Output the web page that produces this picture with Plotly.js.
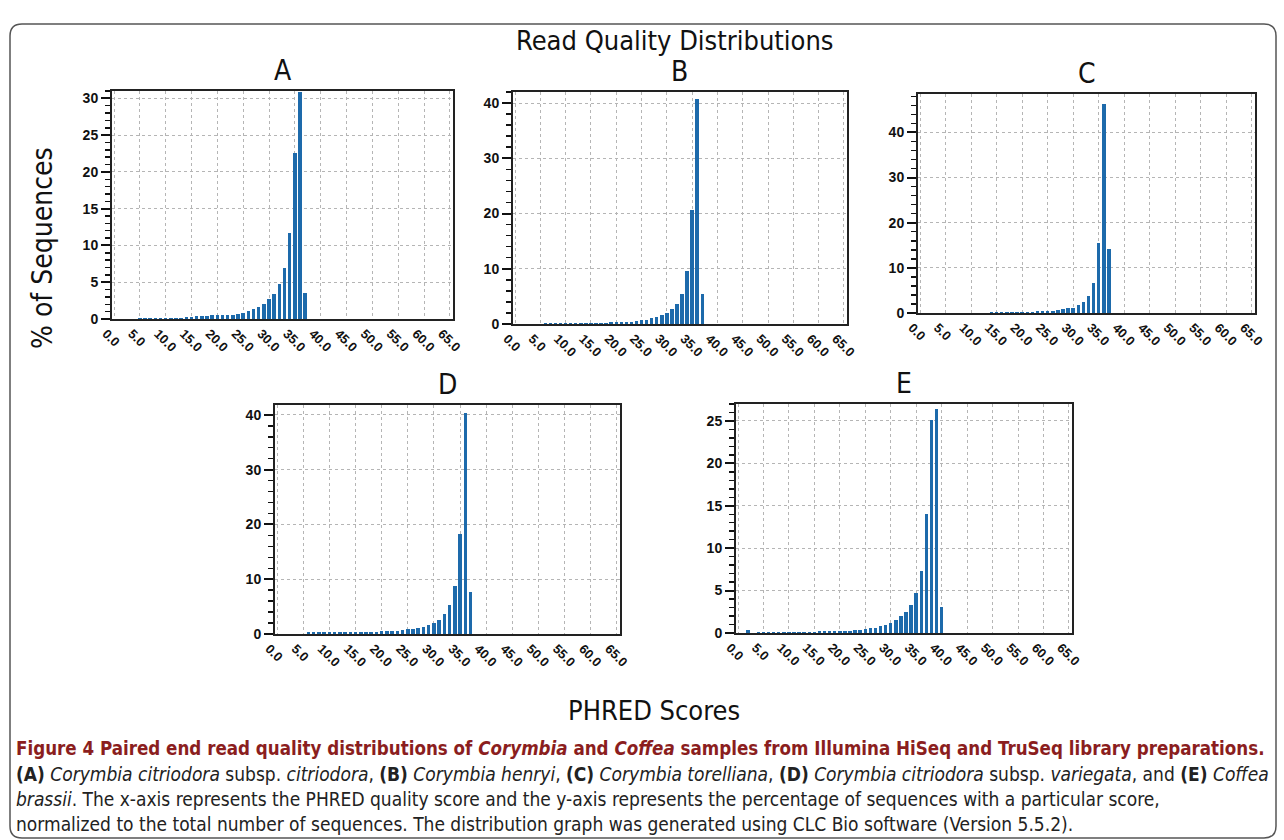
<!DOCTYPE html>
<html><head><meta charset="utf-8">
<script src="https://cdn.plot.ly/plotly-3.0.1.min.js"></script>
<style>html,body{margin:0;padding:0;background:#fff}#chart{width:1284px;height:840px}</style>
</head><body><div id="chart"></div>
<script>
// ---------- data ----------
const xTickVals = [0,5,10,15,20,25,30,35,40,45,50,55,60,65];
const xTickLabels = ["0.0","5.0","10.0","15.0","20.0","25.0","30.0","35.0","40.0","45.0","50.0","55.0","60.0","65.0"];

const panelTitles = ["A","B","C","D","E"];

const qualA = [5,6,7,8,9,10,11,12,13,14,15,16,17,18,19,20,21,22,23,24,25,26,27,28,29,30,31,32,33,34,35,36,37];
const pctA  = [0.15,0.15,0.15,0.15,0.15,0.18,0.18,0.2,0.2,0.25,0.3,0.35,0.4,0.45,0.5,0.5,0.5,0.55,0.6,0.7,0.8,1.1,1.3,1.7,2.0,2.7,3.4,4.8,7.0,11.7,22.6,30.8,3.6];

const qualB = [6,7,8,9,10,11,12,13,14,15,16,17,18,19,20,21,22,23,24,25,26,27,28,29,30,31,32,33,34,35,36,37];
const pctB  = [0.15,0.15,0.15,0.15,0.15,0.15,0.15,0.17,0.18,0.2,0.2,0.22,0.25,0.3,0.3,0.35,0.4,0.45,0.5,0.65,0.8,1.0,1.25,1.6,2.0,2.7,3.6,5.5,9.6,20.6,40.7,5.4];

const qualC = [14,15,16,17,18,19,20,21,22,23,24,25,26,27,28,29,30,31,32,33,34,35,36,37];
const pctC  = [0.2,0.2,0.2,0.22,0.25,0.25,0.28,0.3,0.32,0.35,0.4,0.45,0.5,0.65,0.8,1.0,1.2,1.8,2.5,3.8,6.6,15.4,46.3,14.2];

const qualD = [6,7,8,9,10,11,12,13,14,15,16,17,18,19,20,21,22,23,24,25,26,27,28,29,30,31,32,33,34,35,36,37];
const pctD  = [0.3,0.3,0.3,0.3,0.3,0.3,0.3,0.32,0.32,0.35,0.35,0.4,0.42,0.45,0.48,0.5,0.55,0.6,0.7,0.85,1.0,1.15,1.35,1.65,2.1,2.6,3.65,5.25,8.8,18.3,40.4,7.65];

const qualE = [2,3,4,5,6,7,8,9,10,11,12,13,14,15,16,17,18,19,20,21,22,23,24,25,26,27,28,29,30,31,32,33,34,35,36,37,38,39,40];
const pctE  = [0.3,0,0.1,0.1,0.1,0.1,0.1,0.12,0.12,0.12,0.13,0.14,0.15,0.17,0.18,0.2,0.2,0.22,0.22,0.25,0.28,0.3,0.35,0.45,0.55,0.62,0.8,0.98,1.2,1.55,1.95,2.45,3.3,4.7,7.3,14.0,25.1,26.4,3.1];

const yMaxes  = [31, 42, 48.5, 41.8, 27];
const yDticks = [5, 10, 10, 10, 5];
const yMinor  = [1, 2, 2, 2, 1];

const mainTitle = "Read Quality Distributions";
const yTitle = "% of Sequences";
const xTitle = "PHRED Scores";
const captionLines = [
  "<b>Figure 4 Paired end read quality distributions of <i>Corymbia</i> and <i>Coffea</i> samples from Illumina HiSeq and TruSeq library preparations.</b>",
  "<b>(A)</b> <i>Corymbia citriodora</i> subsp. <i>citriodora</i>, <b>(B)</b> <i>Corymbia henryi</i>, <b>(C)</b> <i>Corymbia torelliana</i>, <b>(D)</b> <i>Corymbia citriodora</i> subsp. <i>variegata</i>, and <b>(E)</b> <i>Coffea</i>",
  "<i>brassii</i>. The x-axis represents the PHRED quality score and the y-axis represents the percentage of sequences with a particular score,",
  "normalized to the total number of sequences. The distribution graph was generated using CLC Bio software (Version 5.5.2)."
];

// ---------- layout geometry (pixels) ----------
const W = 1284, H = 840;
const px = v => v / W;
const py = v => 1 - v / H;
const boxes = [ // [left, right, top, bottom]
  [112, 453, 91, 319],
  [513, 847, 92, 324],
  [918, 1255, 94, 313],
  [275, 620, 405, 634],
  [736, 1072, 404, 633]
];

const xs = [qualA, qualB, qualC, qualD, qualE];
const ys = [pctA, pctB, pctC, pctD, pctE];
const barColor = "#1d6aab";
const condensed = "Liberation Sans Narrow, DejaVu Sans Condensed, Open Sans, sans-serif";

const data = [];
const layout = {
  width: W, height: H,
  margin: {l:0, r:0, t:0, b:0},
  paper_bgcolor: "#fff", plot_bgcolor: "#fff",
  showlegend: false,
  hovermode: false,
  bargap: 0,
  annotations: [],
  shapes: []
};

for (let i = 0; i < 5; i++) {
  const n = i === 0 ? "" : String(i + 1);
  const b = boxes[i];
  data.push({
    type: "bar", x: xs[i], y: ys[i],
    xaxis: "x" + n, yaxis: "y" + n,
    width: 0.68,
    marker: {color: barColor, line: {width: 0}}
  });
  layout["xaxis" + n] = {
    domain: [px(b[0]), px(b[1])],
    anchor: "y" + n,
    range: [-0.4, 65.6],
    tickmode: "array", tickvals: xTickVals, ticktext: xTickLabels,
    tickangle: 45,
    ticks: "",
    ticklabelshift: -8,
    tickfont: {family: "Liberation Sans, Arial, sans-serif", size: 13, color: "#111", weight: "bold"},
    showgrid: true, gridcolor: "#b5b5b5", gridwidth: 1, griddash: "3px,3px",
    showline: true, linecolor: "#222", linewidth: 2, mirror: true,
    zeroline: false, fixedrange: true
  };
  layout["yaxis" + n] = {
    domain: [py(b[3]), py(b[2])],
    anchor: "x" + n,
    range: [0, yMaxes[i]],
    tick0: 0, dtick: yDticks[i],
    ticks: "outside", ticklen: 9, tickwidth: 2, tickcolor: "#111",
    minor: {dtick: yMinor[i], ticks: "outside", ticklen: 5, tickwidth: 1.5, tickcolor: "#111", showgrid: false},
    tickfont: {family: "Liberation Sans, Arial, sans-serif", size: 14, color: "#111", weight: "bold"},
    showgrid: true, gridcolor: "#b5b5b5", gridwidth: 1, griddash: "3px,3px",
    showline: true, linecolor: "#222", linewidth: 2, mirror: true,
    zeroline: false, fixedrange: true
  };
  layout.annotations.push({
    text: panelTitles[i], xref: "paper", yref: "paper",
    x: px((b[0] + b[1]) / 2), y: py(b[2]) , yanchor: "bottom", xanchor: "center", yshift: 2,
    showarrow: false,
    font: {family: condensed, size: 28, color: "#111"}
  });
}

layout.annotations.push({
  text: mainTitle, xref: "paper", yref: "paper", x: px(675), y: py(40),
  xanchor: "center", yanchor: "middle", showarrow: false,
  font: {family: condensed, size: 27, color: "#111"}
});
layout.annotations.push({
  text: yTitle, xref: "paper", yref: "paper", x: px(42), y: py(248),
  xanchor: "center", yanchor: "middle", showarrow: false, textangle: -90,
  font: {family: condensed, size: 28, color: "#111"}
});
layout.annotations.push({
  text: xTitle, xref: "paper", yref: "paper", x: px(654), y: py(710),
  xanchor: "center", yanchor: "middle", showarrow: false,
  font: {family: condensed, size: 27, color: "#111"}
});
const capY = [748, 774, 799, 824];
captionLines.forEach((t, k) => {
  layout.annotations.push({
    text: t, xref: "paper", yref: "paper", x: px(14), y: py(capY[k]),
    xanchor: "left", yanchor: "middle", showarrow: false, align: "left",
    font: {family: condensed, size: k === 0 ? 18.6 : 19, color: k === 0 ? "#8b1e1e" : "#222"}
  });
});

// rounded border
const L = px(10), R = px(1276), T = py(24), B = py(838);
const rx = 12 / W, ry = 12 / H;
layout.shapes.push({
  type: "path", xref: "paper", yref: "paper",
  path: `M ${L+rx},${T} L ${R-rx},${T} Q ${R},${T} ${R},${T-ry} L ${R},${B+ry} Q ${R},${B} ${R-rx},${B} L ${L+rx},${B} Q ${L},${B} ${L},${B+ry} L ${L},${T-ry} Q ${L},${T} ${L+rx},${T} Z`,
  line: {color: "#555", width: 1.5}, fillcolor: "rgba(0,0,0,0)", layer: "below"
});

Plotly.newPlot("chart", data, layout, {displayModeBar: false, staticPlot: true});
</script>
</body></html>
